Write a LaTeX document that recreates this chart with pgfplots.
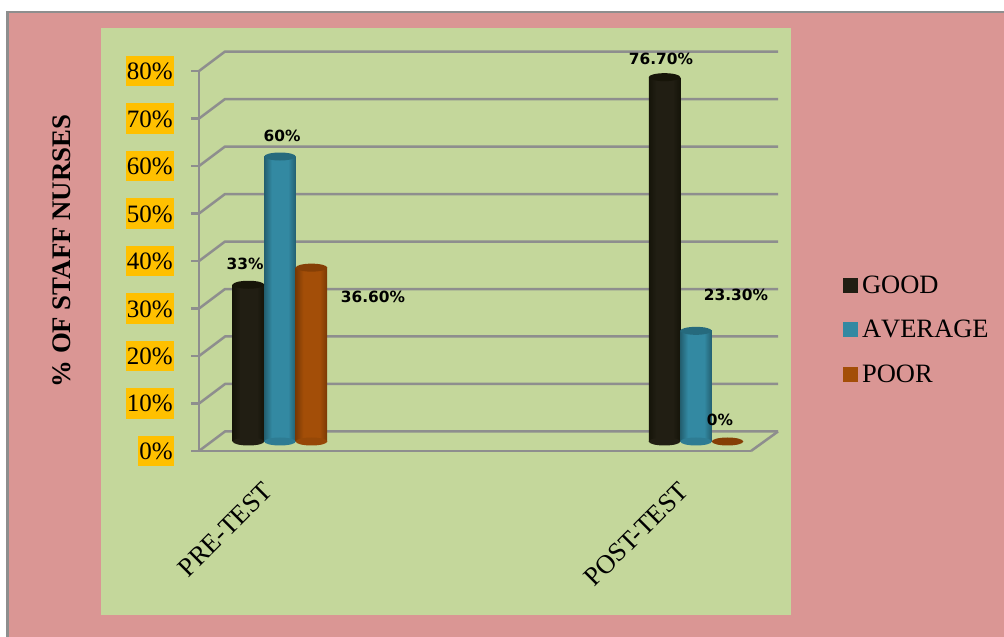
\documentclass[border=0pt]{standalone}
\usepackage{fontspec}
\setmainfont{Liberation Serif}
\newfontfamily\labfont{DejaVu Sans}
\usepackage{pgfplots}
\pgfplotsset{compat=1.18}
\definecolor{pinkbg}{HTML}{DA9694}
\definecolor{greenbg}{HTML}{C4D79B}
\definecolor{gridgray}{HTML}{8E8E8E}
\definecolor{tickbg}{HTML}{FFC000}
\definecolor{good}{HTML}{211E13}
\definecolor{goodedge}{HTML}{151409}
\definecolor{goodtop}{HTML}{171509}
\definecolor{avg}{HTML}{3389A2}
\definecolor{avgedge}{HTML}{235F70}
\definecolor{avgtop}{HTML}{266A7D}
\definecolor{poor}{HTML}{A34E08}
\definecolor{pooredge}{HTML}{793905}
\definecolor{poortop}{HTML}{853F06}
\pgfdeclarehorizontalshading{goodbar}{100bp}{color(0bp)=(goodedge); color(25bp)=(goodedge); color(37bp)=(good); color(63bp)=(good); color(75bp)=(goodedge); color(100bp)=(goodedge)}
\pgfdeclarehorizontalshading{avgbar}{100bp}{color(0bp)=(avgedge); color(25bp)=(avgedge); color(37bp)=(avg); color(63bp)=(avg); color(75bp)=(avgedge); color(100bp)=(avgedge)}
\pgfdeclarehorizontalshading{poorbar}{100bp}{color(0bp)=(pooredge); color(25bp)=(pooredge); color(37bp)=(poor); color(63bp)=(poor); color(75bp)=(pooredge); color(100bp)=(pooredge)}
\pgfdeclareplotmark{cyl}{\pgfpathellipse{\pgfpointorigin}{\pgfqpoint{15.75pt}{0pt}}{\pgfqpoint{0pt}{4pt}}\pgfusepathqfill}
\pgfplotstableread{
x y
0 33
1 76.7
}\goodtable
\pgfplotstableread{
x y
0 60
1 23.3
}\avgtable
\pgfplotstableread{
x y
0 36.6
1 0
}\poortable
\newcommand{\sz}[1]{\fontsize{#1}{#1}\selectfont}
% one shaded path per bar, or the shading stretches across both groups
\pgfplotsset{
  cylbar/.style 2 args={forget plot, draw=none, bar width=31.5pt, bar shift=#2, yshift=9.5pt,
    shading=#1, shading angle=0},
  pre/.style={restrict x to domain=-0.5:0.5},
  post/.style={restrict x to domain=0.5:1.5},
}
\begin{document}
\begin{tikzpicture}[x=1pt,y=1pt]
\path[use as bounding box] (0,0) rectangle (1004,637);
\fill[pinkbg] (8,0) rectangle (1004,625);
\fill[gridgray] (6,0) rectangle (9,626);
\fill[gridgray] (6,624) rectangle (1004,626);
\fill[greenbg] (101,22) rectangle (791,609);
\begin{axis}[
    at={(199pt,186pt)}, anchor=south west,
    scale only axis, width=552pt, height=380pt,
    xmin=-0.1947, xmax=1.1322, ymin=0, ymax=80,
    clip=false,
    axis lines=left,
    axis line style={-, gridgray, line width=2.5pt},
    ybar,
    xtick={0,1},
    xticklabels={PRE-TEST,POST-TEST},
    x tick style={draw=none},
    xticklabel style={font=\sz{26.5}, rotate=45, anchor=north east, xshift=-24.6pt, yshift=1.5pt},
    ytick={0,10,...,80},
    yticklabels={0\%,10\%,20\%,30\%,40\%,50\%,60\%,70\%,80\%},
    tick align=outside, major tick length=8pt,
    y tick style={gridgray, line width=2.5pt},
    yticklabel style={font=\sz{25}, fill=tickbg, anchor=east, xshift=-17pt,
      inner xsep=1.2pt, inner ysep=0pt, text height=23.75pt, text depth=6.75pt},
    legend style={at={(1.1667,0.4675)}, anchor=north west, draw=none, fill=none,
      font=\sz{26.5}, row sep=21.5pt, inner xsep=0pt, inner ysep=0pt},
    legend cell align=left,
  ]
  % back wall and side wall
  \pgfplotsinvokeforeach{0,10,...,80}{
    \draw[gridgray, line width=2.5pt] (axis cs:-0.1947,#1) -- ++(26pt,19.5pt) -- ++(553pt,0pt);
  }
  \draw[gridgray, line width=2.5pt] (axis cs:1.1322,0) -- ++(27pt,19.5pt);
  % GOOD
  \addplot[forget plot, only marks, mark=cyl, color=good, xshift=-31.5pt, yshift=9.5pt] coordinates {(0,0) (1,0)};
  \addplot[cylbar={goodbar}{-31.5pt}, pre] table {\goodtable};
  \addplot[cylbar={goodbar}{-31.5pt}, post] table {\goodtable};
  \addplot[forget plot, only marks, mark=cyl, color=goodtop, xshift=-31.5pt, yshift=9.5pt] table {\goodtable};
  % AVERAGE
  \addplot[forget plot, only marks, mark=cyl, color=avg!70!avgedge, yshift=9.5pt] coordinates {(0,0) (1,0)};
  \addplot[cylbar={avgbar}{0pt}, pre] table {\avgtable};
  \addplot[cylbar={avgbar}{0pt}, post] table {\avgtable};
  \addplot[forget plot, only marks, mark=cyl, color=avgtop, xshift=0pt, yshift=9.5pt] table {\avgtable};
  % POOR (the zero bar has no body, only its flat top)
  \addplot[forget plot, only marks, mark=cyl, color=poor!70!pooredge, xshift=31.5pt, yshift=9.5pt] coordinates {(0,0)};
  \addplot[cylbar={poorbar}{31.5pt}, pre] table {\poortable};
  \addplot[forget plot, only marks, mark=cyl, color=poortop, xshift=31.5pt, yshift=9.5pt] table {\poortable};
  \addlegendimage{legend image code/.code={\fill[good] (0pt,-7pt) rectangle (14pt,7pt);}}
  \addlegendentry{\hspace{2.4pt}GOOD}
  \addlegendimage{legend image code/.code={\fill[avg] (0pt,-7pt) rectangle (14pt,7pt);}}
  \addlegendentry{\hspace{2.4pt}{\addfontfeatures{Kerning=Off}AVERAGE}}
  \addlegendimage{legend image code/.code={\fill[poor] (0pt,-7pt) rectangle (14pt,7pt);}}
  \addlegendentry{\hspace{2.4pt}POOR}
  % value labels
  \begin{scope}[every node/.style={font=\labfont\bfseries\sz{15.4}, inner sep=0pt}]
    \node at (axis cs:-0.084,39.4) {33\%};
    \node at (axis cs:0.005,66.3) {60\%};
    \node at (axis cs:0.2236,32.4) {36.60\%};
    \node at (axis cs:0.9159,82.6) {76.70\%};
    \node at (axis cs:1.0962,32.8) {23.30\%};
    \node at (axis cs:1.0577,6.5) {0\%};
  \end{scope}
  \node[rotate=90, font=\bfseries\sz{26.8}] at (axis cs:-0.524,42.1) {\% OF STAFF NURSES};
\end{axis}
\end{tikzpicture}
\end{document}
